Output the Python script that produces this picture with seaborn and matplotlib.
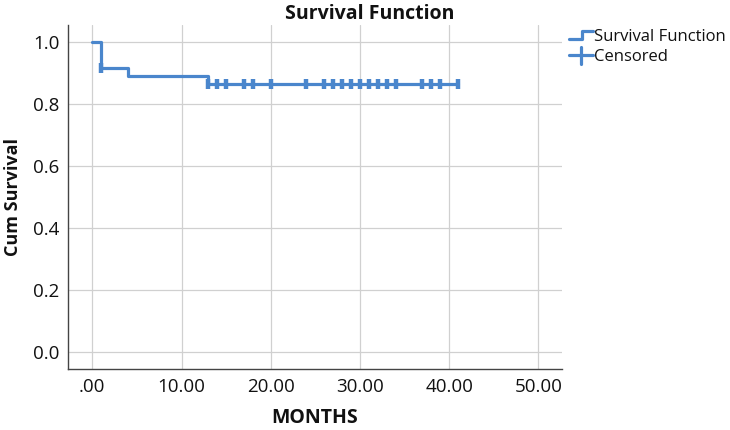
import numpy as np
import pandas as pd
import matplotlib as mpl
import matplotlib.pyplot as plt
import seaborn as sns
from matplotlib.lines import Line2D
from matplotlib.legend_handler import HandlerBase

# DATA
step_months = [0, 1, 4, 13, 41]
step_surv = [1.0, 0.917, 0.890, 0.865, 0.865]

censor_months = [1, 13, 14, 15, 17, 18, 20, 24, 26, 27, 28, 29, 30, 31, 32, 33, 34, 37, 38, 39, 41]
censor_surv = [0.917, 0.865, 0.865, 0.865, 0.865, 0.865, 0.865, 0.865, 0.865, 0.865, 0.865,
               0.865, 0.865, 0.865, 0.865, 0.865, 0.865, 0.865, 0.865, 0.865, 0.865]

x_ticks = [0, 10, 20, 30, 40, 50]
x_ticklabels = [".00", "10.00", "20.00", "30.00", "40.00", "50.00"]
y_ticks = [0.0, 0.2, 0.4, 0.6, 0.8, 1.0]

blue = "#4A86CC"

sns.set_style("whitegrid")
plt.rcParams['font.family'] = ['Open Sans', 'DejaVu Sans']
plt.rcParams['text.color'] = '#111111'
plt.rcParams['axes.labelcolor'] = '#111111'
plt.rcParams['xtick.color'] = '#111111'
plt.rcParams['ytick.color'] = '#111111'

df_step = pd.DataFrame({"MONTHS": step_months, "surv": step_surv})
df_cens = pd.DataFrame({"MONTHS": censor_months, "surv": censor_surv})

fig = plt.figure(figsize=(7.3, 4.3), dpi=100)
ax = fig.add_axes([0.0927, 0.1412, 0.6773, 0.8007])

sns.lineplot(data=df_step, x="MONTHS", y="surv", drawstyle="steps-post",
             color=blue, linewidth=2.3, ax=ax, legend=False)
ax.plot(df_cens["MONTHS"], df_cens["surv"], linestyle="none", marker="|",
        markersize=7, markeredgewidth=3.2, color=blue)

ax.set_xlim(-2.76, 52.66)
ax.set_ylim(-0.055, 1.054)
ax.set_xticks(x_ticks)
ax.set_xticklabels(x_ticklabels)
ax.set_yticks(y_ticks)
ax.set_yticklabels([f"{v:.1f}" for v in y_ticks])
ax.tick_params(axis="both", labelsize=13.5, length=0, pad=6)

ax.grid(True, color="#d0d0d0", linewidth=0.9)
for s in ["top", "right"]:
    ax.spines[s].set_visible(False)
for s in ["left", "bottom"]:
    ax.spines[s].set_color("#444444")
    ax.spines[s].set_linewidth(1.0)

ax.set_xlabel("MONTHS", fontsize=14, fontweight="bold", labelpad=9)
ax.set_ylabel("Cum Survival", fontsize=13, fontweight="bold", labelpad=8)
fig.text(0.507, 0.968, "Survival Function", ha="center", va="center",
         fontsize=14, fontweight="bold")


class StepHandler(HandlerBase):
    def create_artists(self, legend, orig_handle, xdescent, ydescent,
                       width, height, fontsize, trans):
        xs = [0, 0.55 * width, 0.55 * width, width]
        ys = [0.2 * height, 0.2 * height, 0.9 * height, 0.9 * height]
        ln = Line2D(xs, ys, color=blue, linewidth=2.3, transform=trans)
        return [ln]


class CrossHandler(HandlerBase):
    def create_artists(self, legend, orig_handle, xdescent, ydescent,
                       width, height, fontsize, trans):
        h = Line2D([0, width], [height / 2, height / 2], color=blue,
                   linewidth=2.3, transform=trans)
        v = Line2D([width / 2, width / 2], [-0.2 * height, 1.2 * height],
                   color=blue, linewidth=2.3, transform=trans)
        return [h, v]


h_surv = Line2D([], [], color=blue)
h_cens = Line2D([], [], color=blue, marker="|")
fig.legend([h_surv, h_cens], ["Survival Function", "Censored"],
           handler_map={h_surv: StepHandler(), h_cens: CrossHandler()},
           loc="upper left", bbox_to_anchor=(0.77, 0.948), frameon=False,
           fontsize=12, handlelength=1.45, handletextpad=0.05, labelspacing=0.25,
           borderaxespad=0)

fig.savefig("out.png", dpi=100)
plt.close()
